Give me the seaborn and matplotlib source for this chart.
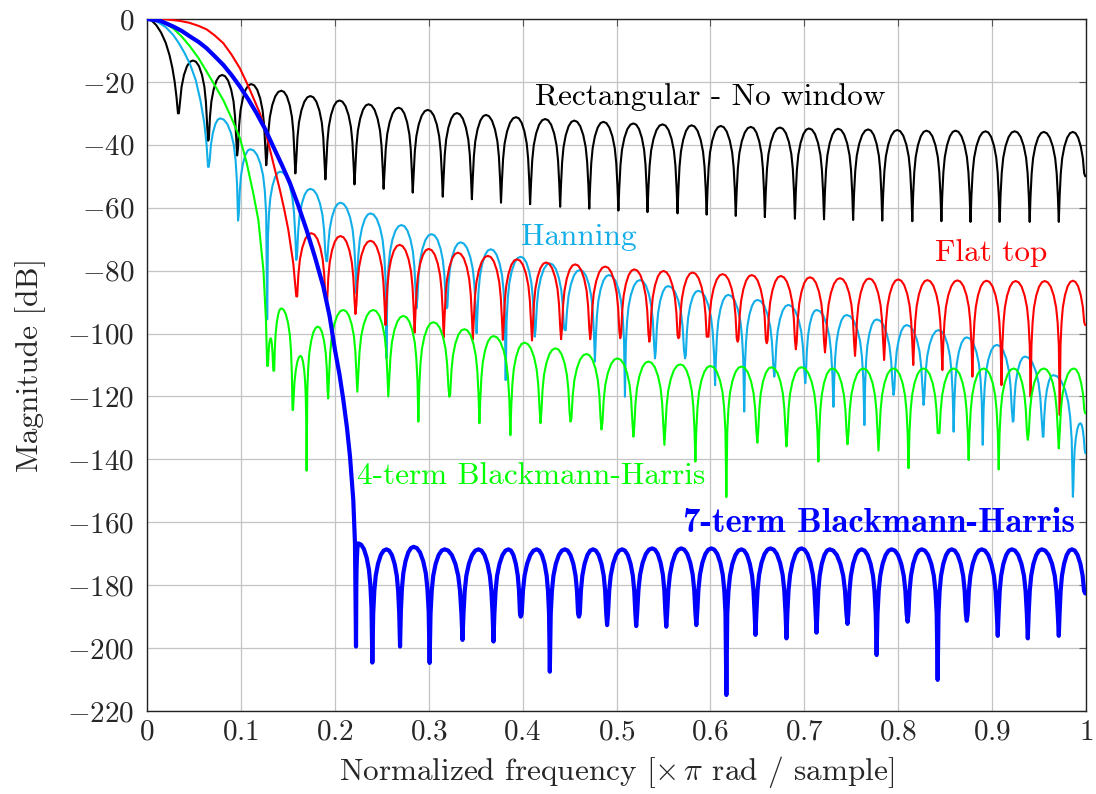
import numpy as np
import pandas as pd
import matplotlib
matplotlib.use("Agg")
import matplotlib.pyplot as plt
import seaborn as sns

# ---- data (x in units of pi rad/sample, y in dB) ----

# Rectangular window
rect_main_x = [0, 0.005, 0.01, 0.015, 0.02, 0.024, 0.027, 0.0295, 0.0315]
rect_main_db = [0, -0.5, -2.0, -4.3, -7.6, -11.5, -15.5, -20.0, -25.0]
rect_null_x = [0.033, 0.065, 0.096, 0.127, 0.158, 0.190, 0.221, 0.252, 0.283, 0.315, 0.346,
               0.377, 0.408, 0.440, 0.471, 0.502, 0.533, 0.565, 0.596, 0.627, 0.658, 0.690,
               0.721, 0.752, 0.783, 0.815, 0.846, 0.877, 0.908, 0.940, 0.971, 1.0]
rect_null_db = [-30.0, -38.7, -43.4, -46.5, -49.1, -51.0, -52.6, -54.0, -55.2, -56.5, -57.3,
                -58.4, -58.9, -59.7, -60.3, -60.9, -61.4, -61.8, -62.2, -62.6, -63.0, -63.5,
                -63.7, -63.9, -64.1, -64.3, -64.3, -64.5, -64.5, -64.5, -64.5, -50.0]
rect_peak_x = [0.049, 0.080, 0.111, 0.143, 0.174, 0.205, 0.236, 0.268, 0.299, 0.330, 0.361,
               0.393, 0.424, 0.455, 0.486, 0.518, 0.549, 0.580, 0.611, 0.643, 0.674, 0.705,
               0.736, 0.768, 0.799, 0.830, 0.861, 0.893, 0.924, 0.955, 0.986]
rect_peak_db = [-13.2, -17.8, -20.7, -22.8, -24.5, -25.9, -27.1, -28.2, -28.9, -29.9, -30.5,
                -31.2, -31.8, -32.3, -32.7, -33.2, -33.5, -33.8, -34.0, -34.3, -34.5, -34.8,
                -34.9, -35.1, -35.3, -35.5, -35.5, -35.7, -35.7, -35.9, -35.9]

# Hanning window
han_main_x = [0, 0.01, 0.02, 0.028, 0.034, 0.04, 0.046, 0.052, 0.057, 0.061, 0.0635]
han_main_db = [0, -0.7, -2.6, -5.1, -7.7, -10.8, -14.5, -19.5, -26.0, -33.0, -40.0]
han_null_x = [0.065, 0.097, 0.128, 0.159, 0.191, 0.223, 0.255, 0.287, 0.319, 0.351, 0.382,
              0.413, 0.445, 0.477, 0.509, 0.541, 0.573, 0.605, 0.636, 0.668, 0.701, 0.731,
              0.764, 0.795, 0.827, 0.859, 0.890, 0.922, 0.954, 0.986, 1.0]
han_null_db = [-47.0, -64.1, -95.5, -76.6, -77.0, -87.2, -107.9, -92.0, -92.0, -99.9, -114.8,
               -101.0, -98.9, -108.9, -120.1, -107.9, -107.9, -116.4, -124.8, -113.7, -115.8,
               -123.3, -129.1, -119.5, -122.7, -131.2, -135.4, -128.0, -132.8, -151.9, -138.0]
han_peak_x = [0.078, 0.110, 0.142, 0.174, 0.206, 0.238, 0.271, 0.303, 0.334, 0.366, 0.398,
              0.429, 0.461, 0.492, 0.525, 0.555, 0.587, 0.619, 0.650, 0.683, 0.713, 0.745,
              0.777, 0.809, 0.843, 0.873, 0.905, 0.935, 0.965, 0.994]
han_peak_db = [-31.6, -41.4, -48.5, -54.0, -58.4, -61.8, -65.5, -68.4, -71.0, -73.2, -75.6,
               -77.7, -79.8, -81.4, -83.0, -84.9, -86.4, -87.7, -89.3, -90.9, -92.5, -94.1,
               -95.5, -97.3, -98.9, -101.2, -103.6, -107.3, -113.2, -128.5]

# Flat top window
ft_main_x = [0, 0.02, 0.035, 0.045, 0.055, 0.0635, 0.072, 0.0813, 0.09, 0.099, 0.105, 0.1097,
             0.115, 0.1203, 0.126, 0.131, 0.136, 0.1416, 0.146, 0.1505, 0.1558]
ft_main_db = [0, -0.1, -0.6, -1.2, -2.2, -3.3, -5.2, -7.7, -11.3, -15.7, -19.5, -22.6,
              -26.3, -30.0, -35.5, -41.6, -47.8, -54.4, -60.3, -67.0, -77.7]
ft_null_x = [0.159, 0.191, 0.222, 0.254, 0.285, 0.316, 0.347, 0.379, 0.410, 0.441, 0.472,
             0.504, 0.535, 0.566, 0.597, 0.629, 0.660, 0.691, 0.722, 0.754, 0.785, 0.816,
             0.847, 0.879, 0.910, 0.941, 0.972, 1.0]
ft_null_db = [-88.2, -90.4, -93.8, -97.3, -99.7, -101.2, -101.8, -102.0, -102.2, -101.8, -101.8,
              -101.5, -102.6, -101.5, -101.0, -102.6, -103.1, -105.0, -106.0, -107.1, -108.4,
              -110.0, -111.6, -113.7, -116.4, -120.1, -125.9, -97.3]
ft_peak_x = [0.175, 0.206, 0.238, 0.269, 0.300, 0.331, 0.363, 0.394, 0.425, 0.456, 0.488,
             0.519, 0.550, 0.581, 0.613, 0.644, 0.675, 0.706, 0.738, 0.769, 0.800, 0.831,
             0.863, 0.894, 0.925, 0.956, 0.986]
ft_peak_db = [-68.1, -69.0, -70.5, -71.8, -73.1, -74.3, -75.3, -76.4, -77.4, -78.0, -78.7,
              -79.6, -80.1, -80.6, -81.1, -81.4, -81.7, -82.1, -82.4, -82.5, -82.8, -83.0,
              -83.1, -83.2, -83.3, -83.3, -83.2]

# 4-term Blackman-Harris
bh4_main_x = [0, 0.0142, 0.021, 0.028, 0.037, 0.046, 0.055, 0.0635, 0.072, 0.0813, 0.09,
              0.099, 0.106, 0.1132, 0.1186, 0.124, 0.1267]
bh4_main_db = [0, -0.8, -1.7, -3.0, -5.6, -8.8, -12.5, -16.7, -21.0, -25.8, -31.5,
               -37.9, -45.5, -55.4, -63.9, -79.8, -95.7]
bh4_null_x = [0.128, 0.135, 0.155, 0.170, 0.193, 0.224, 0.257, 0.289, 0.322, 0.354, 0.387,
              0.419, 0.451, 0.484, 0.518, 0.551, 0.584, 0.617, 0.650, 0.681, 0.715, 0.746,
              0.779, 0.811, 0.843, 0.875, 0.907, 0.938, 0.971, 1.0]
bh4_null_db = [-110.3, -111.8, -124.3, -143.6, -120.6, -118.5, -120.0, -128.0, -120.1, -128.5,
               -132.3, -128.5, -128.0, -130.5, -132.8, -135.4, -140.7, -152.0, -134.7, -135.9,
               -140.7, -135.2, -137.2, -142.8, -131.7, -140.2, -143.2, -133.8, -136.5, -125.4]
bh4_peak_x = [0.1317, 0.143, 0.1636, 0.182, 0.209, 0.241, 0.273, 0.305, 0.338, 0.369, 0.402,
              0.435, 0.468, 0.501, 0.534, 0.568, 0.600, 0.633, 0.665, 0.697, 0.730, 0.763,
              0.795, 0.827, 0.859, 0.891, 0.923, 0.955, 0.987]
bh4_peak_db = [-101.5, -92.0, -107.1, -97.8, -92.5, -92.5, -94.4, -96.4, -98.6, -100.8, -102.9,
               -104.7, -106.5, -107.9, -108.9, -109.8, -110.3, -110.5, -110.7, -110.7, -111.1,
               -111.1, -111.1, -111.1, -111.1, -111.1, -111.1, -111.1, -111.1]

# 7-term Blackman-Harris
bh7_main_x = [0, 0.0142, 0.028, 0.037, 0.046, 0.055, 0.0635, 0.072, 0.0813, 0.09, 0.099,
              0.108, 0.1168, 0.126, 0.1345, 0.1435, 0.1523, 0.161, 0.170, 0.179, 0.1878,
              0.1945, 0.2002, 0.205, 0.2091, 0.213, 0.2162, 0.2197, 0.2215]
bh7_main_db = [0, -0.6, -2.4, -3.8, -5.6, -7.3, -9.3, -11.8, -14.6, -17.8, -21.5,
               -25.6, -30.0, -35.1, -40.6, -46.3, -52.2, -59.2, -67.1, -75.8, -85.1,
               -94.5, -105.2, -113.0, -121.1, -130.0, -139.1, -152.9, -166.7]
bh7_null_x = [0.2226, 0.240, 0.2695, 0.301, 0.336, 0.369, 0.398, 0.429, 0.460, 0.490, 0.521,
              0.553, 0.585, 0.617, 0.648, 0.681, 0.713, 0.746, 0.777, 0.810, 0.842, 0.873,
              0.906, 0.938, 0.971, 1.0]
bh7_null_db = [-199.5, -204.6, -199.5, -204.7, -197.4, -197.9, -190.0, -207.5, -190.0, -192.7,
               -193.0, -193.2, -192.7, -214.9, -195.8, -196.9, -195.1, -192.3, -202.2, -191.6,
               -210.1, -191.3, -196.1, -196.9, -196.1, -182.6]
bh7_peak_x = [0.225, 0.255, 0.284, 0.317, 0.353, 0.385, 0.415, 0.445, 0.475, 0.506, 0.538,
              0.569, 0.601, 0.633, 0.664, 0.697, 0.727, 0.761, 0.793, 0.825, 0.857, 0.889,
              0.921, 0.953, 0.985]
bh7_peak_db = [-166.7, -168.6, -167.8, -168.6, -168.6, -168.6, -168.6, -168.6, -168.6, -168.6,
               -168.3, -168.3, -168.3, -168.6, -168.3, -168.3, -168.6, -168.6, -168.6, -168.6,
               -168.6, -168.6, -168.6, -168.6, -168.6]

# shape of one sidelobe arch (fraction of lobe width from the null, dB below the lobe top)
arch_t = [0.03, 0.07, 0.12, 0.2, 0.3, 0.4]
arch_drop = [-20.5, -13.2, -8.4, -4.6, -1.8, -0.4]

x_ticks = [0, 0.1, 0.2, 0.3, 0.4, 0.5, 0.6, 0.7, 0.8, 0.9, 1]
x_tick_labels = ["0", "0.1", "0.2", "0.3", "0.4", "0.5", "0.6", "0.7", "0.8", "0.9", "1"]
y_ticks = [0, -20, -40, -60, -80, -100, -120, -140, -160, -180, -200, -220]


def trace(main_x, main_db, null_x, null_db, peak_x, peak_db):
    xs, ys = list(main_x), list(main_db)
    for i in range(len(peak_x)):
        xl, xp, xr = null_x[i], peak_x[i], null_x[i + 1]
        yl, yp, yr = null_db[i], peak_db[i], null_db[i + 1]
        xs.append(xl)
        ys.append(yl)
        for t, d in zip(arch_t, arch_drop):
            xs.append(xl + 2 * t * (xp - xl))
            ys.append(max(yp + d, yl))
        xs.append(xp)
        ys.append(yp)
        for t, d in zip(arch_t[::-1], arch_drop[::-1]):
            xs.append(xr - 2 * t * (xr - xp))
            ys.append(max(yp + d, yr))
    xs.append(null_x[-1])
    ys.append(null_db[-1])
    return pd.DataFrame({"freq": xs, "db": ys})


sns.set_style("white")
plt.rcParams["font.family"] = ["cmr10"]
plt.rcParams["mathtext.fontset"] = "cm"
plt.rcParams["axes.formatter.use_mathtext"] = True

cyan = "#11aee8"
curves = [
    (trace(rect_main_x, rect_main_db, rect_null_x, rect_null_db, rect_peak_x, rect_peak_db), "black", 1.5),
    (trace(han_main_x, han_main_db, han_null_x, han_null_db, han_peak_x, han_peak_db), cyan, 1.5),
    (trace(ft_main_x, ft_main_db, ft_null_x, ft_null_db, ft_peak_x, ft_peak_db), "#ff0000", 1.5),
    (trace(bh4_main_x, bh4_main_db, bh4_null_x, bh4_null_db, bh4_peak_x, bh4_peak_db), "#00ff00", 1.5),
    (trace(bh7_main_x, bh7_main_db, bh7_null_x, bh7_null_db, bh7_peak_x, bh7_peak_db), "#0000ff", 3.0),
]

fig = plt.figure(figsize=(10.96, 7.94), dpi=100)
ax = fig.add_axes([0.1341, 0.1045, 0.8568, 0.8716])

for z, (df, color, lw) in enumerate(curves):
    sns.lineplot(data=df, x="freq", y="db", color=color, linewidth=lw, ax=ax,
                 sort=False, estimator=None, zorder=3 + z)

ax.set_xlim(0, 1)
ax.set_ylim(-220, 0)
ax.set_xticks(x_ticks)
ax.set_xticklabels(["$%s$" % s for s in x_tick_labels])
ax.set_yticks(y_ticks)
ax.set_yticklabels(["$%d$" % v for v in y_ticks])
ax.grid(True, color="#c4c4c4", linewidth=0.9)
ax.tick_params(direction="in", length=5, width=0.8, color="#555555", top=True, right=True,
               labelsize=21, pad=6)
ax.tick_params(axis="y", pad=9)
for s in ax.spines.values():
    s.set_color("#222222")
    s.set_linewidth(1.0)

ax.set_xlabel(r"Normalized frequency [$\times\,\pi$ rad / sample]", fontsize=22.5, labelpad=6)
ax.set_ylabel("Magnitude [dB]", fontsize=22.5, labelpad=15)

ax.text(0.60, -24.8, "Rectangular - No window", color="black", fontsize=22.5,
        ha="center", va="center", zorder=10)
ax.text(0.46, -69.3, "Hanning", color=cyan, fontsize=22.5, ha="center", va="center", zorder=10)
ax.text(0.899, -74.5, "Flat top", color="#ff0000", fontsize=22.5, ha="center", va="center", zorder=10)
ax.text(0.409, -145.3, "4-term Blackmann-Harris", color="#00ff00", fontsize=22.5,
        ha="center", va="center", zorder=10)
ax.text(0.7796, -160.5, "7-term Blackmann-Harris", color="#0000ff", fontsize=25,
        family="cmb10", ha="center", va="center", zorder=10)

fig.savefig("out.png", dpi=100)
